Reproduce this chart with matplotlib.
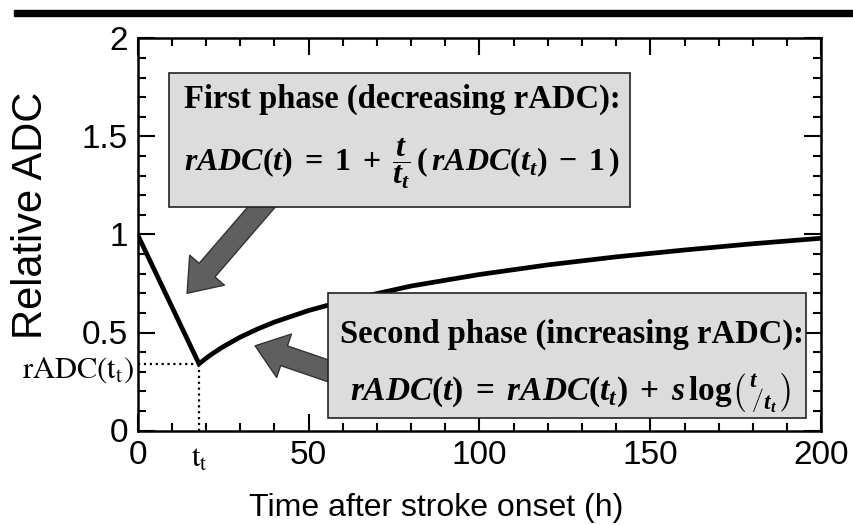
import numpy as np
import matplotlib
matplotlib.use('Agg')
from matplotlib import pyplot as plt
from matplotlib.patches import Rectangle

# values
time_h = [0, 18, 20, 22, 25, 30, 35, 40, 50, 60, 80, 100, 120, 140, 160, 180, 200]
rel_adc = [1.0, 0.34, 0.368, 0.393, 0.427, 0.476, 0.517, 0.553, 0.612, 0.660,
           0.737, 0.796, 0.845, 0.886, 0.921, 0.953, 0.981]
t_turn = 18
adc_turn = 0.34

x_ticks = [0, 50, 100, 150, 200]
x_ticklabels = ['0', '50', '100', '150', '200']
y_ticks = [0, 0.5, 1, 1.5, 2]
y_ticklabels = ['0', '0.5', '1', '1.5', '2']

plt.rcParams['font.family'] = ['Liberation Sans', 'DejaVu Sans']
plt.rcParams['mathtext.fontset'] = 'custom'
plt.rcParams['mathtext.rm'] = 'Liberation Serif:bold'
plt.rcParams['mathtext.it'] = 'Liberation Serif:italic:bold'
plt.rcParams['mathtext.bf'] = 'Liberation Serif:bold'

fig = plt.figure(figsize=(8.54, 5.25), dpi=100)
ax = fig.add_axes([137.5 / 854, 94.5 / 525, 684 / 854, 392 / 525])

# black rule at the top of the page
fig.patches.append(Rectangle((14 / 854, 509 / 525), 1 - 14 / 854, 6 / 525,
                             transform=fig.transFigure, color='black'))

ax.plot(time_h, rel_adc, color='black', lw=3.4, solid_joinstyle='miter', zorder=3)
ax.plot([0, t_turn], [adc_turn, adc_turn], color='black', ls=':', lw=1.6, zorder=2)
ax.plot([t_turn, t_turn], [0, adc_turn], color='black', ls=':', lw=1.6, zorder=2)

ax.set_xlim(0, 200)
ax.set_ylim(0, 2)
ax.set_xticks(x_ticks)
ax.set_xticklabels(x_ticklabels)
ax.set_yticks(y_ticks)
ax.set_yticklabels(y_ticklabels)
ax.set_xticks(np.arange(0, 201, 10), minor=True)
ax.set_yticks(np.arange(0, 2.01, 0.1), minor=True)
ax.tick_params(which='both', direction='in', top=True, right=True, width=1.5, labelsize=24)
ax.tick_params(which='major', length=12)
ax.tick_params(which='minor', length=6)
ax.tick_params(axis='x', pad=7)
ax.tick_params(axis='y', pad=7)
for sp in ax.spines.values():
    sp.set_linewidth(1.8)

ax.set_xlabel('Time after stroke onset (h)', fontsize=23)
ax.xaxis.set_label_coords(0.436, -0.16)
ax.set_ylabel('Relative ADC', fontsize=30)
ax.yaxis.set_label_coords(-0.126, 0.55)

# extra labels for the turning point
ax.text(-0.006, 0.272, r'$\mathrm{rADC(t_t)}$', transform=ax.get_yaxis_transform(),
        ha='right', va='baseline', fontsize=22, math_fontfamily='stix')
ax.text(t_turn, -0.07, r'$\mathrm{t_t}$', ha='center', va='top', fontsize=22,
        math_fontfamily='stix', clip_on=False)

# annotation boxes
box_fc = '#dcdcdc'
ax.add_patch(Rectangle((9.2, 1.142), 134.8, 0.684, fc=box_fc, ec='#222222', lw=1.2, zorder=5))
ax.add_patch(Rectangle((55.7, 0.064), 139.8, 0.638, fc=box_fc, ec='#222222', lw=1.2, zorder=5))

serif = ['Liberation Serif', 'DejaVu Serif']
ax.text(13.6, 1.648, 'First phase (decreasing rADC):', family=serif, weight='bold',
        fontsize=23.5, va='baseline', zorder=6)
ax.text(13.6, 1.36,
        r'$rADC(t)\;=\;1\;+\;\dfrac{t}{t_t}\,\left(\,rADC(t_t)\;-\;1\,\right)$',
        fontsize=23, va='center', zorder=6)
ax.text(59.2, 0.447, 'Second phase (increasing rADC):', family=serif, weight='bold',
        fontsize=23.5, va='baseline', zorder=6)
ax.text(62.2, 0.19,
        r'$rADC(t)\;=\;rADC(t_t)\;+\;s\,\mathrm{log}\left(\,\genfrac{}{}{0}{}{t}{\,}'
        r'\!\!\left/\genfrac{}{}{0}{}{\,}{t_t}\right.\right)$',
        fontsize=24, va='center', zorder=6)

# block arrows pointing at the two phases
arrow_style = 'simple,head_length=22,head_width=33,tail_width=15'
ax.annotate('', xy=(14.5, 0.70), xytext=(41.7, 1.25),
            arrowprops=dict(arrowstyle=arrow_style, mutation_scale=1,
                            fc='#5f5f5f', ec='#333333', lw=1, shrinkA=0, shrinkB=0),
            zorder=4)
ax.annotate('', xy=(34.4, 0.432), xytext=(64.0, 0.255),
            arrowprops=dict(arrowstyle=arrow_style, mutation_scale=1,
                            fc='#5f5f5f', ec='#333333', lw=1, shrinkA=0, shrinkB=0),
            zorder=4)

fig.savefig('out.png', dpi=100)
